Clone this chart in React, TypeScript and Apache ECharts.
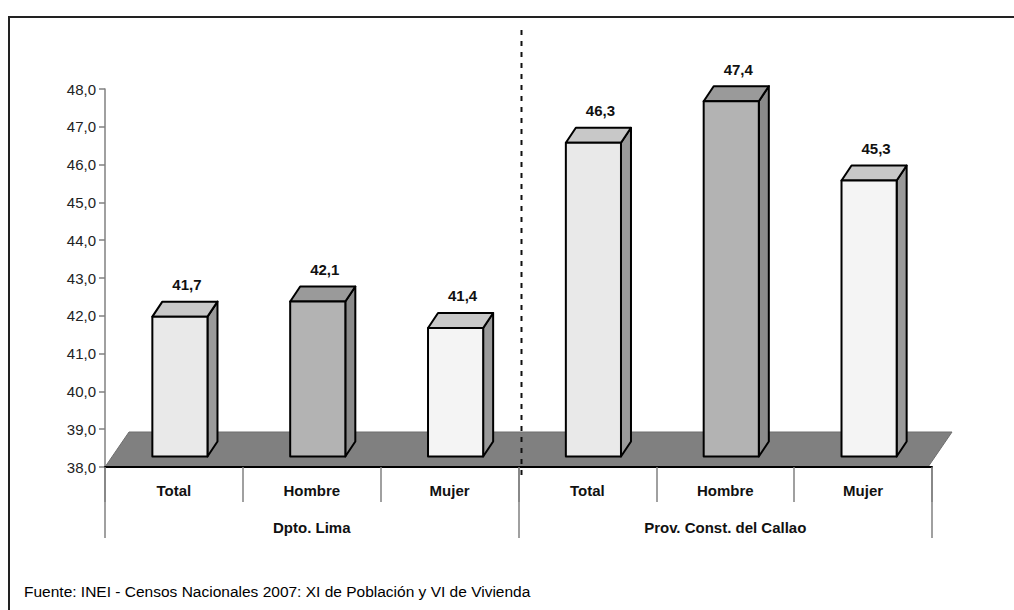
import React, { useEffect, useRef } from "react";
import * as echarts from "echarts";

const categories = ["Total", "Hombre", "Mujer", "Total", "Hombre", "Mujer"];
const groups = ["Dpto. Lima", "Prov. Const. del Callao"];
const values = [41.7, 42.1, 41.4, 46.3, 47.4, 45.3];
const kinds = [0, 1, 2, 0, 1, 2]; // 0 Total, 1 Hombre, 2 Mujer
const yMin = 38;
const yMax = 48;
const footnote = "Fuente: INEI - Censos Nacionales 2007: XI de Población y VI de Vivienda";

const frontColors = ["#e9e9e9", "#b3b3b3", "#f4f4f4"];
const topColors = ["#c8c8c8", "#9a9a9a", "#c8c8c8"];
const sideColors = ["#9a9a9a", "#8a8a8a", "#9a9a9a"];

const FONT = "'Liberation Sans', Arial, sans-serif";

export default function App() {
  const ref = useRef<HTMLDivElement>(null);
  useEffect(() => {
    document.body.style.margin = "0";
    const chart = echarts.init(ref.current!, null, { renderer: "svg" });
    const barData = values.map((v, i) => [i, v, kinds[i]]);
    chart.setOption({
      animation: false,
      backgroundColor: "#ffffff",
      grid: { left: 105, right: 82, top: 89, bottom: 143, containLabel: false },
      xAxis: [
        {
          type: "category",
          data: categories,
          position: "bottom",
          boundaryGap: true,
          axisLine: { show: true, lineStyle: { color: "#000", width: 2 } },
          axisTick: { show: true, length: 35, lineStyle: { color: "#808080", width: 1.5 } },
          axisLabel: { margin: 16, fontFamily: FONT, fontWeight: "bold", fontSize: 15, color: "#111" },
          splitLine: { show: false },
          z: 5,
        },
        {
          type: "category",
          data: groups,
          position: "bottom",
          boundaryGap: true,
          axisLine: { show: false },
          axisTick: { show: true, length: 71, lineStyle: { color: "#808080", width: 1.5 } },
          axisLabel: { margin: 53, fontFamily: FONT, fontWeight: "bold", fontSize: 15, color: "#111" },
          splitLine: { show: false },
        },
      ],
      yAxis: {
        type: "value",
        min: yMin,
        max: yMax,
        interval: 1,
        axisLine: { show: true, lineStyle: { color: "#808080", width: 1.5 } },
        axisTick: { show: true, length: 6, lineStyle: { color: "#808080", width: 1.5 } },
        axisLabel: {
          margin: 9,
          fontFamily: FONT,
          fontSize: 15,
          color: "#222",
          formatter: (v: number) => v.toFixed(1).replace(".", ","),
        },
        splitLine: { show: false },
      },
      series: [
        {
          type: "custom",
          clip: false,
          silent: true,
          z: 1,
          data: [[0]],
          renderItem: (params: any) => {
            const cs = params.coordSys;
            const x = cs.x, y = cs.y, w = cs.width, h = cs.height;
            const fy = y + h;
            return {
              type: "group",
              children: [
                {
                  type: "polygon",
                  shape: {
                    points: [
                      [x, fy],
                      [x + w - 4, fy],
                      [x + w + 20, fy - 35],
                      [x + 24, fy - 35],
                    ],
                  },
                  style: { fill: "#808080", stroke: "#6e6e6e", lineWidth: 1 },
                },
                {
                  type: "line",
                  shape: { x1: x + w / 2 + 3, y1: y - 59, x2: x + w / 2 + 3, y2: fy + 10 },
                  style: { stroke: "#111", lineWidth: 2, lineDash: [5, 6] },
                },
              ],
            };
          },
        },
        {
          type: "custom",
          clip: false,
          z: 3,
          data: barData,
          renderItem: (params: any, api: any) => {
            const idx = api.value(0);
            const v = api.value(1);
            const k = api.value(2);
            const base = api.coord([idx, yMin]);
            const top = api.coord([idx, v]);
            const bw = api.size([1, 0])[0];
            const w = bw * 0.4;
            const ox = 6, oy = -10.5;
            const dx = 10, dy = -15;
            const x0 = base[0] - w / 2 + ox;
            const x1 = x0 + w;
            const yb = base[1] + oy;
            const yt = top[1] + oy;
            const stroke = { stroke: "#000", lineWidth: 2, lineJoin: "round" };
            const label = v.toFixed(1).replace(".", ",");
            return {
              type: "group",
              children: [
                {
                  type: "polygon",
                  shape: { points: [[x1, yt], [x1 + dx, yt + dy], [x1 + dx, yb + dy], [x1, yb]] },
                  style: { fill: sideColors[k], ...stroke },
                },
                {
                  type: "polygon",
                  shape: { points: [[x0, yt], [x1, yt], [x1 + dx, yt + dy], [x0 + dx, yt + dy]] },
                  style: { fill: topColors[k], ...stroke },
                },
                {
                  type: "rect",
                  shape: { x: x0, y: yt, width: w, height: yb - yt },
                  style: { fill: frontColors[k], ...stroke },
                },
                {
                  type: "text",
                  x: (x0 + x1 + dx) / 2 + 2,
                  y: yt + dy - 17,
                  style: {
                    text: label,
                    fill: "#111",
                    font: `bold 15px ${FONT}`,
                    align: "center",
                    verticalAlign: "middle",
                  },
                },
              ],
            };
          },
        },
      ],
      graphic: [
        {
          type: "rect",
          silent: true,
          shape: { x: 9, y: 17, width: 1200, height: 800 },
          style: { fill: "none", stroke: "#222", lineWidth: 2 },
          z: 10,
        },
        {
          type: "text",
          left: 24,
          top: 583,
          style: { text: footnote, fill: "#000", font: `15.5px ${FONT}` },
        },
      ],
    });
    return () => chart.dispose();
  }, []);
  return <div ref={ref} style={{ width: 1014, height: 610 }} />;
}
